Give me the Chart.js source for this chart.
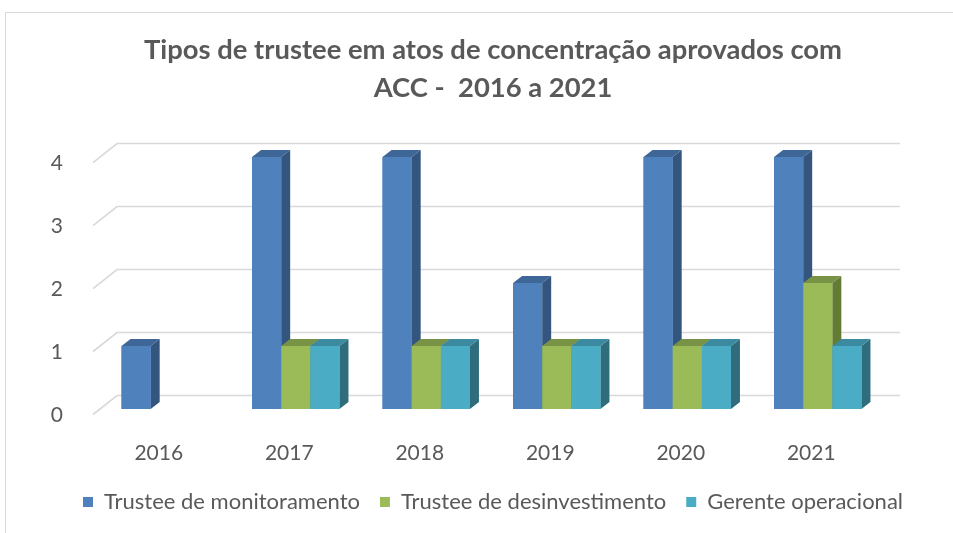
<!DOCTYPE html>
<html lang="pt">
<head>
<meta charset="utf-8">
<title>Tipos de trustee</title>
<script src="https://cdn.jsdelivr.net/npm/chart.js@4/dist/chart.umd.min.js"></script>
<style>
  html, body { margin: 0; padding: 0; background: #fff; overflow: hidden; }
  canvas { display: block; }
</style>
</head>
<body>
<canvas id="chart" width="986" height="533"></canvas>
<script>
// Dados
const years = ['2016', '2017', '2018', '2019', '2020', '2021'];
const monitoramento = [1, 4, 4, 2, 4, 4];
const desinvestimento = [null, 1, 1, 1, 1, 2];
const gerente = [null, 1, 1, 1, 1, 1];
const yTicks = [0, 1, 2, 3, 4];

const frontColors = ['#4F81BD', '#9BBB59', '#4BACC6'];
const sideColors = ['#33557e', '#647b36', '#2f6d7d'];
const topColors = ['#3e6797', '#789345', '#3b8a9f'];

const depthX = 9, depthY = 7;      // profundidade das barras
const wallX = 17, wallY = 13.5;    // deslocamento da parede de fundo

function poly(ctx, pts) {
    ctx.beginPath();
    ctx.moveTo(pts[0][0], pts[0][1]);
    for (let i = 1; i < pts.length; i++) ctx.lineTo(pts[i][0], pts[i][1]);
    ctx.closePath();
    ctx.fill();
}

// desenha moldura, grade em perspectiva e as faces laterais/superiores das barras
const fake3d = {
    id: 'fake3d',
    beforeDraw(chart) {
        const ctx = chart.ctx;
        ctx.save();
        ctx.fillStyle = '#fff';
        ctx.fillRect(0, 0, chart.width, chart.height);
        ctx.strokeStyle = '#d9d9d9';
        ctx.lineWidth = 1;
        ctx.strokeRect(5.5, 12.5, chart.width + 10, chart.height + 10);
        ctx.restore();
    },
    beforeDatasetsDraw(chart) {
        const {ctx, chartArea: a, scales: {y}} = chart;
        ctx.save();
        ctx.strokeStyle = '#d9d9d9';
        ctx.lineWidth = 1.6;
        yTicks.forEach(v => {
            const py = y.getPixelForValue(v);
            ctx.beginPath();
            ctx.moveTo(a.left - 7, py + 5.5);
            ctx.lineTo(a.left + wallX, py - wallY);
            ctx.lineTo(a.right + wallX, py - wallY);
            ctx.stroke();
        });
        ctx.restore();
    },
    afterDatasetsDraw(chart) {
        const ctx = chart.ctx;
        ctx.save();
        for (let i = 0; i < chart.data.labels.length; i++) {
            chart.data.datasets.forEach((ds, d) => {
                const bar = chart.getDatasetMeta(d).data[i];
                if (!bar || ds.data[i] == null) return;
                const {x, y, base, width} = bar.getProps(['x', 'y', 'base', 'width'], true);
                const l = x - width / 2, r = x + width / 2;
                ctx.fillStyle = sideColors[d];
                poly(ctx, [[r, y], [r + depthX, y - depthY], [r + depthX, base - depthY], [r, base]]);
                ctx.fillStyle = topColors[d];
                poly(ctx, [[l, y], [l + depthX, y - depthY], [r + depthX, y - depthY], [r, y]]);
                bar.draw(ctx, chart.chartArea);
            });
        }
        ctx.restore();
    }
};

const textColor = '#595959';
const font = 'Lato';

new Chart(document.getElementById('chart'), {
    type: 'bar',
    data: {
        labels: years,
        datasets: [
            { label: 'Trustee de monitoramento', data: monitoramento, backgroundColor: frontColors[0] },
            { label: 'Trustee de desinvestimento', data: desinvestimento, backgroundColor: frontColors[1] },
            { label: 'Gerente operacional', data: gerente, backgroundColor: frontColors[2] }
        ]
    },
    options: {
        responsive: false,
        animation: false,
        devicePixelRatio: 1,
        layout: { padding: { top: 0, left: 0, right: 0, bottom: 10 } },
        datasets: {
            bar: { barPercentage: 1, categoryPercentage: 0.67, borderWidth: 0 }
        },
        plugins: {
            title: {
                display: true,
                text: ['Tipos de trustee em atos de concentração aprovados com', 'ACC -  2016 a 2021'],
                color: textColor,
                font: { family: font, size: 27.4, weight: 'bold', lineHeight: 1.387 },
                padding: { top: 31, bottom: 50 }
            },
            legend: {
                position: 'bottom',
                labels: {
                    color: textColor,
                    boxWidth: 10,
                    boxHeight: 10,
                    padding: 20,
                    font: { family: font, size: 22 }
                }
            },
            tooltip: { enabled: false }
        },
        scales: {
            x: {
                grid: { display: false },
                border: { display: false },
                ticks: {
                    color: textColor,
                    font: { family: font, size: 21 },
                    padding: 24,
                    labelOffset: -6.5
                },
                afterFit(s) { s.height = 62; }
            },
            y: {
                min: 0,
                max: 4,
                grid: { display: false },
                border: { display: false },
                ticks: {
                    stepSize: 1,
                    color: textColor,
                    font: { family: font, size: 21 },
                    padding: 29,
                    labelOffset: 6.5
                },
                afterFit(s) { s.width = 100; }
            },
            y2: {
                position: 'right',
                grid: { display: false },
                border: { display: false },
                ticks: { display: false },
                afterFit(s) { s.width = 103; }
            }
        }
    },
    plugins: [fake3d]
});
</script>
</body>
</html>
